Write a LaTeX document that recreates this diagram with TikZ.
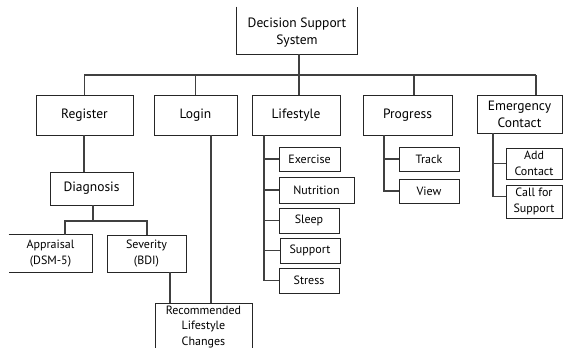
\documentclass[tikz,border=0pt]{standalone}
\usepackage{fontspec}
\setmainfont{PT Sans}
\usetikzlibrary{calc}
\begin{document}
\begin{tikzpicture}[x=1pt,y=-1pt,
  box/.style={draw=black!85,line width=0.8pt,align=center,inner sep=1pt,
    font=\fontsize{13.5}{17}\selectfont},
  sbox/.style={box,font=\fontsize{12}{15.5}\selectfont},
  conn/.style={draw=black!75,line width=1.1pt},
  edge3/.style={draw=black!85,line width=0.8pt}]
\useasboundingbox (0,0) rectangle (563,348);
\clip (0,0) rectangle (563,348);
% top box (open at the top)
\node[box,draw=none,minimum width=120,minimum height=43] (dss) at (297,32.5) {Decision Support\\System};
\draw[edge3] ($(dss.north west)+(0,-4)$) -- (dss.south west) -- (dss.south east) -- ($(dss.north east)+(0,-4)$);
% level 1
\node[box,minimum width=97,minimum height=40] (register) at (84.5,115) {Register};
\node[box,minimum width=83,minimum height=40] (login) at (195.5,115) {Login};
\node[box,minimum width=88,minimum height=40] (lifestyle) at (296,115) {Lifestyle};
\node[box,minimum width=89,minimum height=40] (progress) at (407.5,115) {Progress};
\node[box,minimum width=85,minimum height=38] (emergency) at (519.5,114) {Emergency\\Contact};
% register branch
\node[box,minimum width=83,minimum height=33] (diagnosis) at (91.5,188.5) {Diagnosis};
\node[sbox,draw=none,minimum width=83,minimum height=37] (appraisal) at (50.5,253.5) {Appraisal\\(DSM-5)};
\draw[edge3] (appraisal.north west) -- (appraisal.north east) -- (appraisal.south east) -- (appraisal.south west);
\node[sbox,minimum width=79,minimum height=37] (severity) at (146.5,253.5) {Severity\\(BDI)};
\node[sbox,minimum width=97,minimum height=48] (recommended) at (203.5,327) {Recommended\\Lifestyle\\Changes};
% lifestyle branch
\node[sbox,minimum width=61,minimum height=24] (exercise) at (309.5,159) {Exercise};
\node[sbox,minimum width=75,minimum height=26] (nutrition) at (316.5,190) {Nutrition};
\node[sbox,minimum width=60,minimum height=25] (sleep) at (309,220.5) {Sleep};
\node[sbox,minimum width=60,minimum height=25] (support) at (310,250.5) {Support};
\node[sbox,minimum width=60,minimum height=25] (stress) at (309,280.5) {Stress};
% progress branch
\node[sbox,minimum width=60,minimum height=24] (track) at (429,159) {Track};
\node[sbox,minimum width=60,minimum height=24] (view) at (429,191) {View};
% emergency branch
\node[sbox,minimum width=56,minimum height=31] (add) at (534,163.5) {Add\\Contact};
\node[sbox,minimum width=56,minimum height=33] (call) at (534,201.5) {Call for\\Support};
% bus
\coordinate (busL) at (84,75);
\coordinate (busR) at (536,75);
\draw[conn] (busL) -- (busR);
\draw[conn] ([xshift=2]dss.south) -- ([xshift=2]dss.south |- busL);
\draw[conn] (register.north) -- (register.north |- busL);
\draw[conn] (login.north) -- (login.north |- busL);
\draw[conn] ([xshift=3]lifestyle.north) -- ([xshift=3]lifestyle.north |- busL);
\draw[conn] ([xshift=6.5]progress.north) -- ([xshift=6.5]progress.north |- busL);
\draw[conn] ([xshift=16.5]emergency.north) -- (busR);
% register -> diagnosis
\draw[conn] ([xshift=-0.5]register.south) -- ([xshift=-0.5]register.south |- diagnosis.north);
\coordinate (dbus) at (93,221);
\draw[conn] ([xshift=1.5]diagnosis.south) -- (dbus);
\draw[conn] ([xshift=14.5]appraisal.north) |- (dbus) -| ([xshift=0.5]severity.north);
% to recommended
\draw[conn] ([xshift=23.5]severity.south) -- ([xshift=23.5]severity.south |- recommended.north);
\draw[conn] ([xshift=15.5]login.south) -- ([xshift=15.5]login.south |- recommended.north);
% lifestyle children
\coordinate (lsp) at (264,135);
\draw[conn] (lsp) |- (stress.west);
\foreach \n in {exercise,nutrition,sleep,support}
  \draw[conn] (\n.west) -- (\n.west -| lsp);
% progress children
\coordinate (psp) at (384,135);
\draw[conn] (psp) |- (view.west);
\draw[conn] (track.west) -- (track.west -| psp);
% emergency children
\coordinate (esp) at (493,133);
\draw[conn] (esp) |- ([yshift=5]call.west);
\draw[conn] (add.west) -- (add.west -| esp);
\end{tikzpicture}
\end{document}
